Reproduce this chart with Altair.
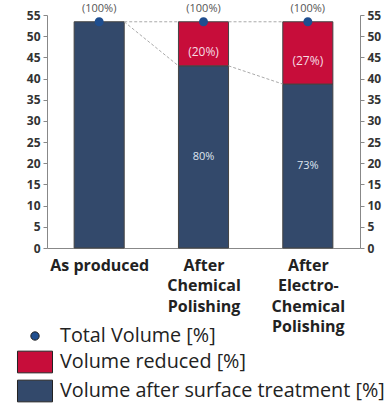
import altair as alt
import pandas as pd

categories = ["As produced", "After Chemical Polishing", "After Electro-Chemical Polishing"]
category_lines = [["As produced"], ["After", "Chemical", "Polishing"], ["After", "Electro-", "Chemical", "Polishing"]]
total_volume = [53.4, 53.4, 53.4]
after_volume = [53.4, 43.0, 38.7]
total_labels = ["(100%)", "(100%)", "(100%)"]
reduced_labels = ["", "(20%)", "(27%)"]
after_labels = ["", "80%", "73%"]
series_names = ["Total Volume [%]", "Volume reduced [%]", "Volume after surface treatment [%]"]
series_colors = ["#1f4e8f", "#c70d3a", "#33496b"]
y_ticks = list(range(0, 56, 5))

HW = 0.24
W, H = 313, 233
FONT = "Open Sans"

seg_rows = []
for i in range(len(categories)):
    seg_rows.append(dict(i=i, series=series_names[2], y0=0, y1=after_volume[i], label=after_labels[i], kind="after"))
    if total_volume[i] > after_volume[i]:
        seg_rows.append(dict(i=i, series=series_names[1], y0=after_volume[i], y1=total_volume[i], label=reduced_labels[i], kind="reduced"))
seg = pd.DataFrame(seg_rows)
seg["xl"] = seg["i"] - HW
seg["xr"] = seg["i"] + HW
seg["ym"] = (seg["y0"] + seg["y1"]) / 2

conn_rows = []
for i in range(len(categories) - 1):
    conn_rows.append(dict(x=i + HW, x2=i + 1 - HW, y=total_volume[i], y2=total_volume[i + 1]))
    conn_rows.append(dict(x=i + HW, x2=i + 1 - HW, y=after_volume[i], y2=after_volume[i + 1]))
conn = pd.DataFrame(conn_rows)

tot = pd.DataFrame(dict(i=list(range(len(categories))), total=total_volume, label=total_labels,
                        series=[series_names[0]] * len(categories)))

xs = alt.Scale(domain=[-0.5, 2.5], nice=False, zero=False)
ys = alt.Scale(domain=[0, 55], nice=False)

circle_path = "M-0.27,0A0.27,0.27,0,1,1,0.27,0A0.27,0.27,0,1,1,-0.27,0Z"
rect_path = "M-1.13,-0.7H1.13V0.7H-1.13Z"

legend = alt.Legend(title=None, orient="none", legendX=-28, legendY=305, padding=0,
                    symbolSize=961, symbolStrokeColor="#222", symbolStrokeWidth=1,
                    labelFont=FONT, labelFontSize=19.8, labelColor="#222", labelOffset=9,
                    rowPadding=0, labelLimit=400)
color_enc = alt.Color("series:N", scale=alt.Scale(domain=series_names, range=series_colors), legend=legend)

label_expr = str(category_lines) + "[datum.value]"

x_axis = alt.Axis(values=[0, 1, 2], labelExpr=label_expr, ticks=False, grid=False, title=None,
                  domainColor="#888", labelFont=FONT, labelFontWeight="bold", labelFontSize=16,
                  labelColor="#222", labelLineHeight=20.5, labelPadding=9, labelBaseline="top")

def y_axis(orient):
    return alt.Axis(orient=orient, values=y_ticks, tickSize=4, tickColor="#888", domainColor="#888",
                    grid=False, title=None, labelFont=FONT, labelFontWeight="bold", labelFontSize=12,
                    labelColor="#333", labelPadding=3)

bars = alt.Chart(seg).mark_rect(stroke="#444", strokeWidth=1).encode(
    x=alt.X("xl:Q", scale=xs, axis=x_axis),
    x2="xr:Q",
    y=alt.Y("y0:Q", scale=ys, axis=y_axis("left")),
    y2="y1:Q",
    color=color_enc,
)

connectors = alt.Chart(conn).mark_rule(color="#aaa", strokeDash=[3, 2], strokeWidth=1).encode(
    x=alt.X("x:Q", scale=xs, axis=None), x2="x2:Q",
    y=alt.Y("y:Q", scale=ys, axis=None), y2="y2:Q",
)

dots = alt.Chart(tot).mark_point(filled=True, opacity=1, size=1111).encode(
    x=alt.X("i:Q", scale=xs, axis=None),
    y=alt.Y("total:Q", scale=ys, axis=y_axis("right")),
    color=color_enc,
    shape=alt.Shape("series:N", scale=alt.Scale(domain=series_names, range=[circle_path, rect_path, rect_path]), legend=legend),
)

tot_text = alt.Chart(tot).mark_text(font=FONT, fontSize=11, color="#555", dy=-13).encode(
    x=alt.X("i:Q", scale=xs, axis=None),
    y=alt.Y("total:Q", scale=ys, axis=None),
    text="label:N",
)

red_text = alt.Chart(seg[seg["kind"] == "reduced"]).mark_text(font=FONT, fontSize=12, color="#f6dde3", dy=8).encode(
    x=alt.X("i:Q", scale=xs, axis=None),
    y=alt.Y("ym:Q", scale=ys, axis=None),
    text="label:N",
)

blue_text = alt.Chart(seg[seg["kind"] == "after"]).mark_text(font=FONT, fontSize=11, color="#dfe5ef").encode(
    x=alt.X("i:Q", scale=xs, axis=None),
    y=alt.Y("ym:Q", scale=ys, axis=None),
    text="label:N",
)

chart = alt.layer(bars, connectors, red_text, blue_text, tot_text, dots).resolve_axis(
    x="independent", y="independent"
).properties(
    width=W, height=H,
    autosize=alt.AutoSizeParams(type="none"),
    padding={"left": 47, "top": 15, "right": 31, "bottom": 161},
).configure_view(strokeWidth=0)

chart.save("out.html", embed_options={"renderer": "svg", "actions": False})
